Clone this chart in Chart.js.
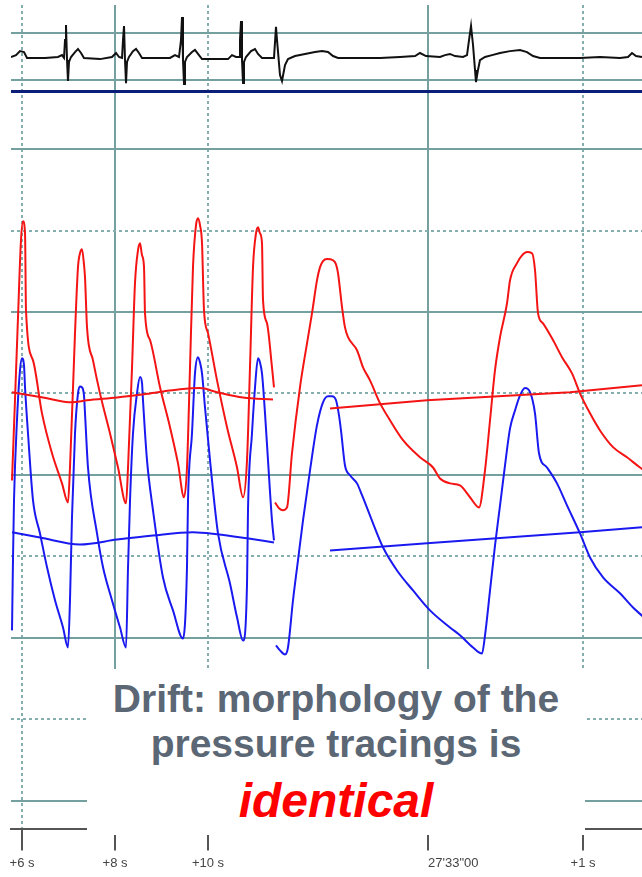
<!DOCTYPE html>
<html><head><meta charset="utf-8">
<script src="https://cdn.jsdelivr.net/npm/chart.js@4"></script>
<style>
html,body{margin:0;padding:0;background:#fff;}
#wrap{position:relative;width:642px;height:877px;overflow:hidden;}
#note{position:absolute;left:87px;top:669px;width:498px;height:166px;background:#fff;}
.l{position:absolute;left:0;width:100%;text-align:center;font-family:'Liberation Sans',Arial,sans-serif;font-weight:bold;white-space:nowrap;}
.g{font-size:39px;line-height:39px;color:#5b6774;}
.r{font-size:48px;line-height:48px;color:#ff0000;font-style:italic;}
</style></head>
<body><div id="wrap"><canvas id="c" width="642" height="877"></canvas>
<div id="note">
<div class="l g" style="top:10px">Drift: morphology of the</div>
<div class="l g" style="top:55px">pressure tracings is</div>
<div class="l r" style="top:108px">identical</div>
</div></div>
<script>
// ---- axis ticks ----
const xTickValues = [6, 8, 10, 14.731, 18.065];
const xTickLabels = ['+6 s', '+8 s', '+10 s', '27\'33"00', '+1 s'];
const xSolidTicks = [8, 14.731];
const startAlignedLabel = '27\'33"00';
const pressureSolidTicks = [0, 40, 80, 120, 160];
const pressureDottedTicks = [20, 60, 100, 140];
const ecgTicks = [1, -1];
const ecgSeparator = -1.468;

// ---- ECG (mV) ----
const ecgTrace = [[5.763,-0.02],[5.871,0.06],[5.957,0.23],[6.043,0.19],[6.108,-0.06],[6.495,-0.06],[6.774,-0.02],[6.860,0.06],[6.903,-0.06],[6.925,0.70],[6.946,1.34],[6.968,-0.15],[6.989,-1.04],[7.011,-0.23],[7.054,-0.02],[7.140,0.19],[7.204,0.32],[7.269,0.15],[7.333,-0.06],[7.677,-0.11],[7.935,-0.02],[8.022,0.15],[8.086,-0.02],[8.151,-0.06],[8.172,0.70],[8.194,1.30],[8.215,-0.15],[8.237,-1.13],[8.258,-0.23],[8.301,-0.02],[8.387,0.23],[8.452,0.32],[8.516,0.15],[8.581,-0.06],[9.183,-0.06],[9.290,0.06],[9.376,-0.02],[9.419,0.70],[9.441,1.68],[9.462,-0.15],[9.484,-1.17],[9.505,-0.23],[9.548,-0.02],[9.656,0.19],[9.720,0.28],[9.785,0.11],[9.871,-0.11],[10.430,-0.11],[10.516,0.06],[10.602,-0.02],[10.667,-0.02],[10.688,0.70],[10.710,1.51],[10.731,-0.15],[10.753,-1.13],[10.774,-0.23],[10.817,-0.02],[10.925,0.23],[11.011,0.32],[11.075,0.11],[11.161,-0.06],[11.419,-0.06],[11.462,1.26],[11.484,0.70],[11.548,-0.79],[11.591,-1.04],[11.656,-0.36],[11.720,-0.11],[11.871,0.02],[12.086,0.11],[12.301,0.19],[12.452,0.23],[12.581,0.19],[12.688,0.02],[12.796,-0.06],[13.269,-0.06],[13.699,-0.06],[14.129,-0.02],[14.452,0.02],[14.559,0.15],[14.688,0.02],[14.989,-0.02],[15.097,0.06],[15.204,0.11],[15.312,0.02],[15.484,-0.02],[15.570,0.06],[15.613,0.70],[15.656,1.30],[15.699,0.49],[15.742,-0.57],[15.763,-1.09],[15.806,-0.57],[15.849,-0.15],[15.957,-0.02],[16.108,0.06],[16.280,0.15],[16.495,0.23],[16.710,0.28],[16.860,0.19],[16.989,0.02],[17.140,-0.06],[17.570,-0.06],[18.000,-0.06],[18.430,-0.02],[18.860,-0.06],[19.032,-0.02],[19.118,0.15],[19.204,0.02],[19.333,-0.02]];

// ---- red pressure (mmHg) ----
const redLeft = [[5.785,78.6],[5.849,98.3],[5.914,118.7],[5.978,137.6],[6.022,142.3],[6.065,139.3],[6.086,120.4],[6.237,108.1],[6.430,95.1],[6.645,85.3],[6.860,77.9],[6.989,73.2],[7.032,81.8],[7.140,114.8],[7.204,131.0],[7.247,134.4],[7.290,135.4],[7.333,131.7],[7.355,128.5],[7.398,116.2],[7.527,108.1],[7.677,100.0],[7.892,90.2],[8.065,81.8],[8.237,73.0],[8.280,81.8],[8.366,106.4],[8.430,127.1],[8.495,135.2],[8.538,136.9],[8.581,133.9],[8.624,131.0],[8.645,119.7],[8.753,113.1],[8.968,101.5],[9.183,91.7],[9.355,82.8],[9.484,74.5],[9.548,81.8],[9.613,106.4],[9.677,131.0],[9.742,141.3],[9.785,143.0],[9.828,141.3],[9.871,136.9],[9.914,120.4],[10.000,114.8],[10.194,103.2],[10.409,91.7],[10.624,81.8],[10.753,74.5],[10.839,83.6],[10.903,106.4],[10.968,131.0],[11.032,139.3],[11.075,140.8],[11.118,139.3],[11.161,136.9],[11.183,122.9],[11.269,117.2],[11.376,106.4],[11.419,101.5]];
const redRight = [[11.441,73.2],[11.527,71.8],[11.613,71.3],[11.699,72.0],[11.806,85.3],[11.978,101.5],[12.129,112.3],[12.237,119.7],[12.344,127.8],[12.409,131.0],[12.473,132.5],[12.559,133.0],[12.688,132.7],[12.753,131.7],[12.796,129.5],[12.882,121.2],[12.946,116.2],[13.011,113.8],[13.204,110.6],[13.333,106.4],[13.484,103.2],[13.699,97.6],[13.914,93.4],[14.194,88.5],[14.559,84.3],[14.839,81.8],[14.989,79.1],[15.204,77.9],[15.419,77.4],[15.634,74.5],[15.828,72.0],[15.957,81.1],[16.065,93.4],[16.172,105.7],[16.280,113.8],[16.430,122.1],[16.495,127.8],[16.645,132.0],[16.753,133.9],[16.860,134.7],[16.968,134.4],[17.032,130.3],[17.097,119.7],[17.204,117.2],[17.419,113.1],[17.613,108.9],[17.828,104.9],[18.000,100.0],[18.215,95.1],[18.430,90.9],[18.710,86.8],[19.011,84.3],[19.290,81.8],[19.355,81.3]];
const redMeanLeft = [[5.785,100.3],[6.452,99.0],[7.075,97.8],[7.398,98.3],[8.043,99.0],[8.753,100.0],[9.398,101.0],[9.828,101.3],[10.194,100.3],[10.753,99.0],[11.398,98.5]];
const redMeanRight = [[12.624,96.3],[14.710,98.3],[17.785,100.3],[19.333,102.0]];

// ---- blue pressure (mmHg) ----
const blueLeft = [[5.785,41.8],[5.806,59.0],[5.828,73.7],[5.892,93.4],[5.957,105.7],[6.000,108.6],[6.043,106.9],[6.065,101.5],[6.129,90.2],[6.237,73.7],[6.387,65.6],[6.538,57.3],[6.710,49.2],[6.882,42.5],[6.989,37.6],[7.032,49.2],[7.075,69.6],[7.140,90.2],[7.204,100.0],[7.247,101.7],[7.290,101.5],[7.333,99.5],[7.355,95.1],[7.419,81.8],[7.613,65.6],[7.742,57.3],[7.935,49.2],[8.108,42.5],[8.237,37.6],[8.280,57.3],[8.323,73.7],[8.387,90.2],[8.473,100.0],[8.538,104.0],[8.581,102.5],[8.602,98.3],[8.688,83.6],[8.817,71.3],[9.032,54.8],[9.247,46.7],[9.462,39.8],[9.548,57.3],[9.570,73.7],[9.656,90.2],[9.720,104.9],[9.785,108.9],[9.828,107.6],[9.871,104.9],[9.935,96.6],[10.043,83.6],[10.215,65.6],[10.473,53.3],[10.624,45.0],[10.753,39.3],[10.839,53.3],[10.860,71.3],[10.946,90.2],[11.011,101.5],[11.075,108.6],[11.118,107.6],[11.161,104.9],[11.226,95.1],[11.290,83.6],[11.376,68.8],[11.419,63.9]];
const blueRight = [[11.462,38.1],[11.548,36.9],[11.656,35.9],[11.720,37.6],[11.828,49.2],[11.935,59.0],[12.043,68.8],[12.194,81.1],[12.344,92.2],[12.473,97.8],[12.581,99.3],[12.667,99.3],[12.753,98.3],[12.817,94.6],[12.860,90.9],[12.946,82.3],[13.054,79.9],[13.204,77.9],[13.312,75.0],[13.484,70.0],[13.763,62.2],[14.065,56.5],[14.409,51.6],[14.774,46.7],[15.204,42.5],[15.419,40.6],[15.699,37.6],[15.892,36.1],[15.957,40.6],[16.065,51.6],[16.172,62.7],[16.280,72.5],[16.387,82.3],[16.495,91.4],[16.602,95.8],[16.710,99.5],[16.817,101.3],[16.925,100.3],[17.032,95.1],[17.118,85.3],[17.290,81.8],[17.505,77.9],[17.720,72.5],[18.000,65.6],[18.215,59.7],[18.495,54.8],[18.860,50.9],[19.140,47.4],[19.355,45.2]];
const blueMeanLeft = [[5.785,65.9],[6.387,64.6],[7.247,62.9],[8.043,64.1],[8.817,65.1],[9.677,65.9],[10.194,65.4],[10.839,64.4],[11.419,63.4]];
const blueMeanRight = [[12.624,61.4],[14.710,63.2],[18.000,65.9],[19.333,67.1]];

// ---- view ranges ----
const X_MIN = 5.7634, X_MAX = 19.333;
const P_MIN = -6.88, P_MAX = 195.38;
const E_MIN = -32.83, E_MAX = 2.191;

const TEAL = '#74a0a0', TEAL_DOT = '#85aeae', NAVY = '#0c1f78';
const RED = '#f41414', BLUE = '#1a1af0';
const LABEL_FONT = {family: "'Liberation Sans', Arial, sans-serif", size: 13, lineHeight: 0.8};

function alignStart(label) {
  const m = document.createElement('canvas').getContext('2d');
  m.font = LABEL_FONT.size + 'px ' + LABEL_FONT.family;
  const w = m.measureText(label).width, sp = m.measureText(' ').width;
  return ' '.repeat(Math.round(w / sp)) + label;
}
const toXY = a => a.map(([x, y]) => ({x, y}));
const line = (data, color, yAxisID, smooth) => ({
  data: toXY(data), borderColor: color, borderWidth: 2, pointRadius: 0, fill: false,
  xAxisID: 'x', yAxisID, tension: 0, cubicInterpolationMode: smooth ? 'monotone' : 'default'
});
const setTicks = vals => scale => { scale.ticks = vals.map(v => ({value: v})); };

new Chart(document.getElementById('c'), {
  type: 'line',
  data: {
    datasets: [
      line(ecgTrace, '#111111', 'yE', false),
      line(redLeft, RED, 'yP', true),
      line(redRight, RED, 'yP', true),
      line(redMeanLeft, RED, 'yP', true),
      line(redMeanRight, RED, 'yP', false),
      line(blueLeft, BLUE, 'yP', true),
      line(blueRight, BLUE, 'yP', true),
      line(blueMeanLeft, BLUE, 'yP', true),
      line(blueMeanRight, BLUE, 'yP', false)
    ]
  },
  options: {
    responsive: false, animation: false, devicePixelRatio: 1, events: [],
    layout: {padding: {left: 11, right: 0, top: 5, bottom: 0}},
    plugins: {legend: {display: false}, tooltip: {enabled: false}},
    scales: {
      x: {
        type: 'linear', position: 'bottom', min: X_MIN, max: X_MAX,
        afterBuildTicks: setTicks(xTickValues),
        ticks: {
          autoSkip: false, maxRotation: 0, padding: 8, color: '#444', font: LABEL_FONT,
          callback: (v, i) => xTickLabels[i] === startAlignedLabel ? alignStart(xTickLabels[i]) : xTickLabels[i]
        },
        grid: {
          color: c => (c.tick && xSolidTicks.includes(c.tick.value)) ? TEAL : 'rgba(0,0,0,0)',
          lineWidth: 2, tickLength: 22, tickColor: '#555', tickWidth: 2
        },
        border: {display: true, color: '#555', width: 2}
      },
      xMinor: {
        axis: 'x', type: 'linear', position: 'top', min: X_MIN, max: X_MAX,
        afterBuildTicks: setTicks(xTickValues.filter(v => !xSolidTicks.includes(v))),
        ticks: {display: false},
        grid: {color: TEAL_DOT, lineWidth: 2, drawTicks: false},
        border: {display: false, dash: [3, 3]}
      },
      yP: {
        axis: 'y', type: 'linear', position: 'left', min: P_MIN, max: P_MAX,
        afterBuildTicks: setTicks(pressureSolidTicks),
        ticks: {display: false},
        grid: {color: TEAL, lineWidth: 2, drawTicks: false},
        border: {display: false}
      },
      yPd: {
        axis: 'y', type: 'linear', position: 'left', min: P_MIN, max: P_MAX,
        afterBuildTicks: setTicks(pressureDottedTicks),
        ticks: {display: false},
        grid: {color: TEAL_DOT, lineWidth: 2, drawTicks: false},
        border: {display: false, dash: [3, 3]}
      },
      yE: {
        axis: 'y', type: 'linear', position: 'left', min: E_MIN, max: E_MAX,
        afterBuildTicks: setTicks(ecgTicks.concat([ecgSeparator])),
        ticks: {display: false},
        grid: {
          color: c => (c.tick && c.tick.value === ecgSeparator) ? NAVY : TEAL,
          lineWidth: c => (c.tick && c.tick.value === ecgSeparator) ? 3 : 2,
          drawTicks: false
        },
        border: {display: false}
      }
    }
  }
});
</script>
</body></html>
